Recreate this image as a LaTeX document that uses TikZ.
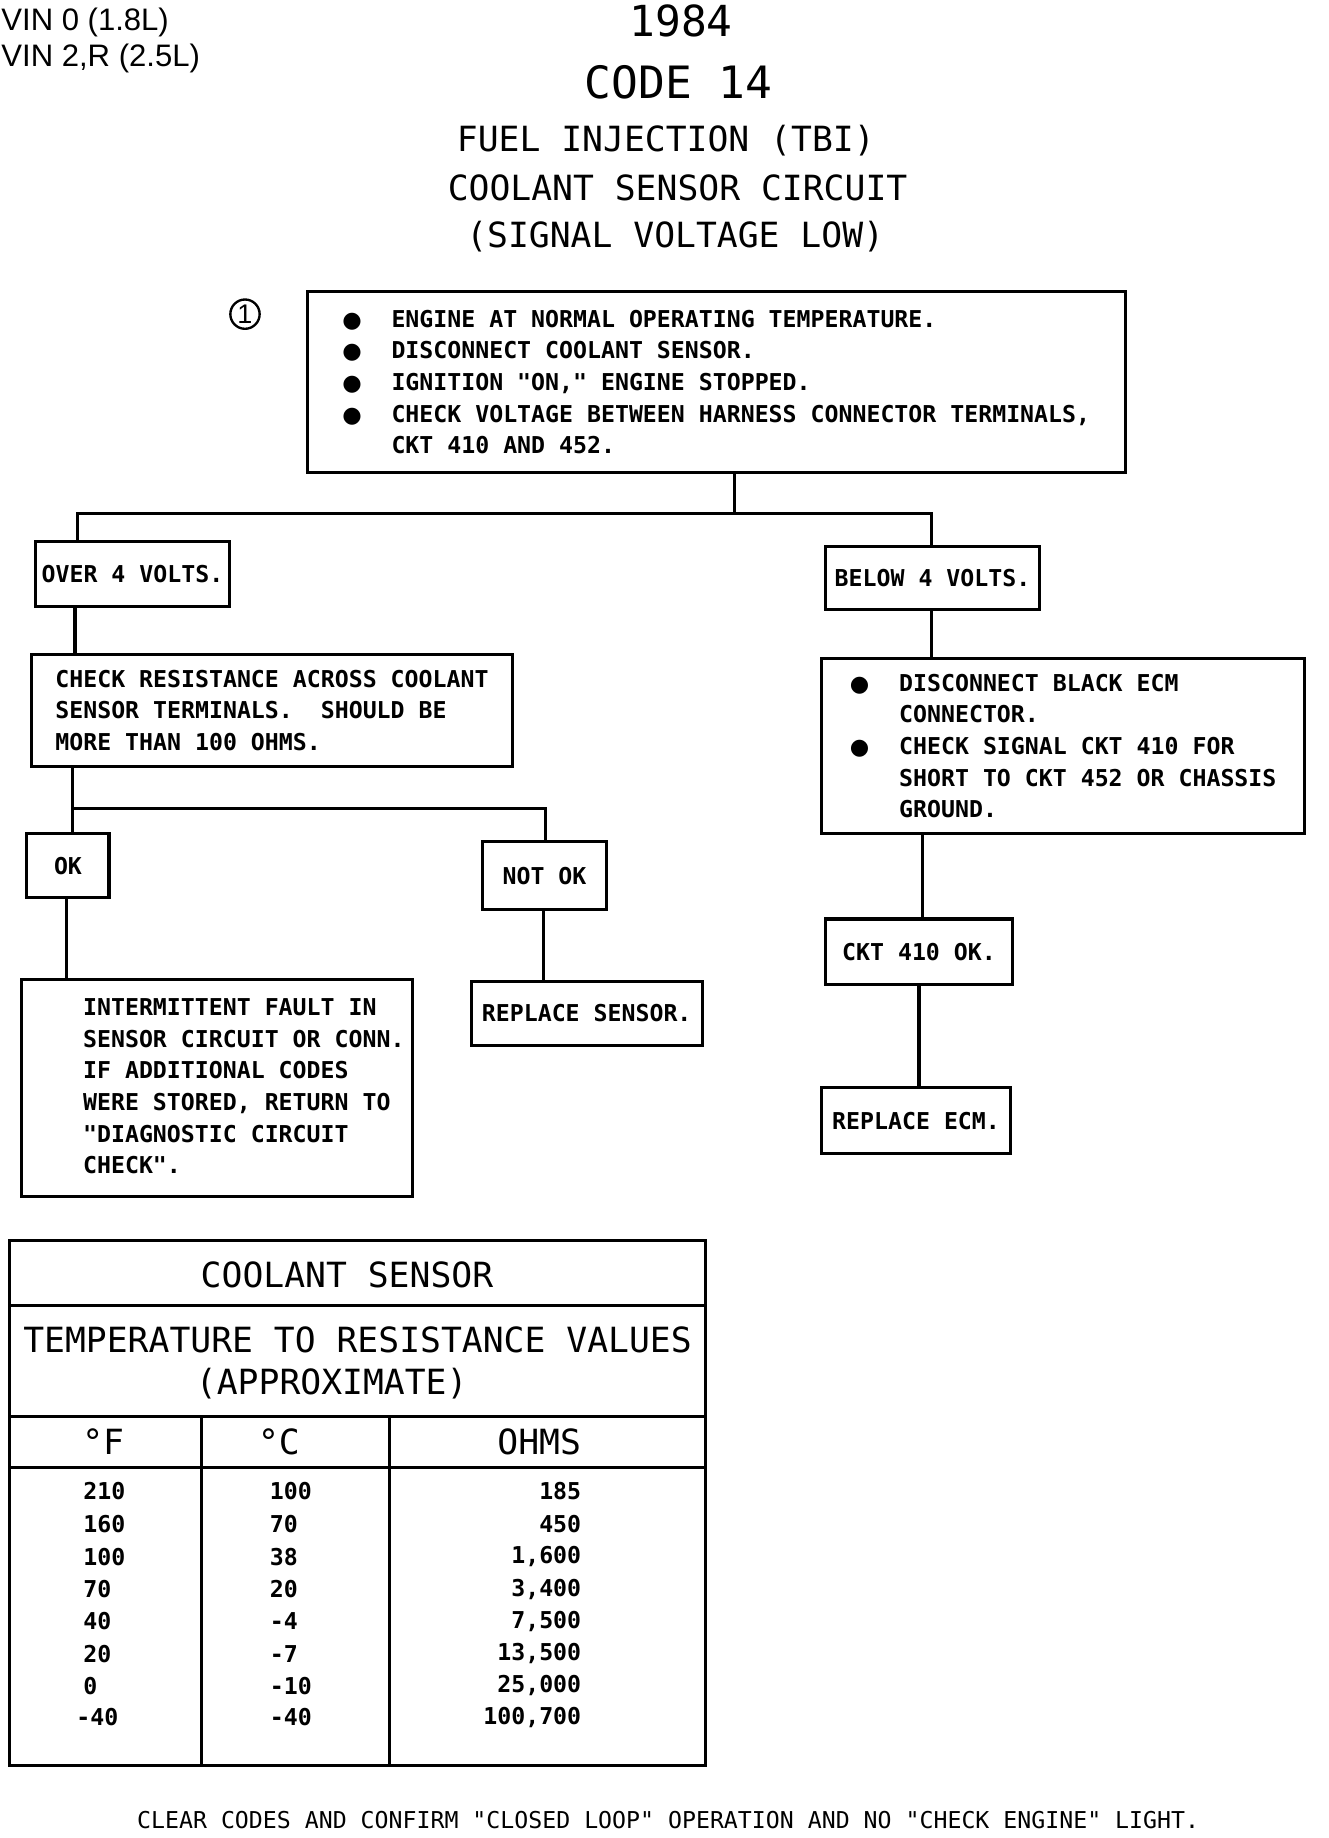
\documentclass[tikz,border=0pt]{standalone}
\usepackage{fontspec}
\usepackage{tikz}

\newfontfamily\plotfont{DejaVu Sans Mono}
\newfontfamily\symfont{DejaVu Sans}
\newfontfamily\vinfont{Liberation Sans}
\newcommand{\smalltxt}{\plotfont\fontsize{19.8}{27}\selectfont}
\newcommand{\midtxt}{\plotfont\fontsize{29.6}{36}\selectfont}
\newcommand{\bigtxt}{\plotfont\fontsize{38}{44}\selectfont}
\newcommand{\blt}{\makebox[42pt][l]{{\symfont\fontsize{19}{19}\selectfont ●}}}
\newcommand{\nblt}{\hspace*{42pt}}

\begin{document}
\begin{tikzpicture}[x=1pt, y=-1pt]
    % Define styles
    \tikzstyle{box} = [rectangle, draw=black, line width=2.6pt, font=\smalltxt\bfseries, align=left, inner sep=0pt]
    \tikzstyle{link} = [line width=2.6pt]
    \tikzstyle{title} = [font=\midtxt, inner sep=0pt]
    \tikzstyle{num} = [font=\smalltxt\bfseries, inner sep=0pt]

    \useasboundingbox[fill=white] (0,0) rectangle (1133,1568);

    % Heading
    \node[anchor=north west, align=left, inner sep=0pt, font=\vinfont\fontsize{26.5}{30}\selectfont] (vin) at (1,7) {VIN 0 (1.8L)\\VIN 2,R (2.5L)};
    \node[font=\plotfont\fontsize{36.5}{40}\selectfont] (year) at (581,18) {1984};
    \node[font=\bigtxt] (code) at (579,70) {CODE 14};
    \node[title] (tbi) at (568,120) {FUEL INJECTION (TBI)};
    \node[title] (circuit) at (578,160) {COOLANT SENSOR CIRCUIT};
    \node[title] (signal) at (576,202) {(SIGNAL VOLTAGE LOW)};

    \node[circle, draw, line width=2pt, minimum size=25pt, inner sep=0pt, font=\vinfont\fontsize{23}{23}\selectfont] (step1) at (209,268) {1};

    % Boxes
    \node[box, minimum width=698pt, minimum height=154pt] (start) at (611,326)
        {\blt ENGINE AT NORMAL OPERATING TEMPERATURE.\\
         \blt DISCONNECT COOLANT SENSOR.\\
         \blt IGNITION "ON," ENGINE STOPPED.\\
         \blt CHECK VOLTAGE BETWEEN HARNESS CONNECTOR TERMINALS,\\
         \nblt CKT 410 AND 452.\hspace*{8pt}};

    \node[box, minimum width=166pt, minimum height=55pt] (over) at (113,489.5) {OVER 4 VOLTS.};
    \node[box, minimum width=183pt, minimum height=54pt] (below) at (795.5,493) {BELOW 4 VOLTS.};

    \node[box, minimum width=410pt, minimum height=96pt] (resist) at (232,606)
        {CHECK RESISTANCE ACROSS COOLANT\\
         SENSOR TERMINALS.\ \ SHOULD BE\\
         MORE THAN 100 OHMS.};

    \node[box, minimum width=70pt, minimum height=55pt] (ok) at (58,738.5) {OK};
    \node[box, minimum width=105pt, minimum height=58pt] (notok) at (464.5,747) {NOT OK};

    \node[box, minimum width=334pt, minimum height=185pt] (intermit) at (185,928.5)
        {\begin{tabular}{@{\hspace{46pt}}l@{}}
         INTERMITTENT FAULT IN\\
         SENSOR CIRCUIT OR CONN.\\
         IF ADDITIONAL CODES\\
         WERE STORED, RETURN TO\\
         "DIAGNOSTIC CIRCUIT\\
         CHECK".
         \end{tabular}};

    \node[box, minimum width=197pt, minimum height=55pt] (replsensor) at (500.5,864.5) {REPLACE SENSOR.};

    \node[box, minimum width=412pt, minimum height=149pt] (disconnect) at (907,636.5)
        {\blt DISCONNECT BLACK ECM\\
         \nblt CONNECTOR.\\
         \blt CHECK SIGNAL CKT 410 FOR\\
         \nblt SHORT TO CKT 452 OR CHASSIS\\
         \nblt GROUND.};

    \node[box, minimum width=160pt, minimum height=56pt] (ckt) at (784,812) {CKT 410 OK.};
    \node[box, minimum width=161pt, minimum height=56pt] (replecm) at (781.5,956) {REPLACE ECM.};

    % Connectors
    \coordinate (fork1) at (627,438);
    \coordinate (forkL) at (66,438);
    \coordinate (forkR) at (795,438);
    \coordinate (fork2) at (62,690);
    \coordinate (fork2R) at (465,690);

    \draw[link] (start.south -| fork1) -- (fork1);
    \draw[link] (over.north -| forkL) -- (forkL) -- (forkR) -- (below.north -| forkR);
    \draw[link] (over.south -| 64,0) -- (resist.north -| 64,0);
    \draw[link] (resist.south -| fork2) -- (fork2) -- (fork2R) -- (notok.north -| fork2R);
    \draw[link] (fork2) -- (ok.north -| fork2);
    \draw[link] (ok.south -| 57,0) -- (intermit.north -| 57,0);
    \draw[link] (notok.south -| 464,0) -- (replsensor.north -| 464,0);
    \draw[link] (below.south -| 795,0) -- (disconnect.north -| 795,0);
    \draw[link] (disconnect.south -| 787,0) -- (ckt.north -| 787,0);
    \draw[link] (ckt.south -| 784,0) -- (replecm.north -| 784,0);

    % Table frame
    \draw[link] (8,1058) rectangle (602,1506);
    \draw[link] (8,1114) -- (602,1114);
    \draw[link] (8,1208) -- (602,1208);
    \draw[link] (8,1252) -- (602,1252);
    \draw[link] (172,1208) -- (172,1506);
    \draw[link] (332,1208) -- (332,1506);

    % Table headers
    \node[title] (tabtitle) at (296,1088) {COOLANT SENSOR};
    \node[title] (tabsub) at (305,1143) {TEMPERATURE TO RESISTANCE VALUES};
    \node[title] (tabapprox) at (283,1180) {(APPROXIMATE)};
    \node[title] (hdf) at (88,1230) {°F};
    \node[title] (hdc) at (238,1230) {°C};
    \node[title] (hdohm) at (460,1230) {OHMS};

    % Row 1
    \node[num, anchor=west] (f1) at (71,1272) {210};
    \node[num, anchor=west] (c1) at (230,1272) {100};
    \node[num, anchor=east] (r1) at (496,1272) {185};

    % Row 2
    \node[num, anchor=west] (f2) at (71,1300) {160};
    \node[num, anchor=west] (c2) at (230,1300) {70};
    \node[num, anchor=east] (r2) at (496,1300) {450};

    % Row 3
    \node[num, anchor=west] (f3) at (71,1328) {100};
    \node[num, anchor=west] (c3) at (230,1328) {38};
    \node[num, anchor=east] (r3) at (496,1328) {1,600};

    % Row 4
    \node[num, anchor=west] (f4) at (71,1356) {70};
    \node[num, anchor=west] (c4) at (230,1356) {20};
    \node[num, anchor=east] (r4) at (496,1356) {3,400};

    % Row 5
    \node[num, anchor=west] (f5) at (71,1383) {40};
    \node[num, anchor=west] (c5) at (230,1383) {-4};
    \node[num, anchor=east] (r5) at (496,1383) {7,500};

    % Row 6
    \node[num, anchor=west] (f6) at (71,1411) {20};
    \node[num, anchor=west] (c6) at (230,1411) {-7};
    \node[num, anchor=east] (r6) at (496,1411) {13,500};

    % Row 7
    \node[num, anchor=west] (f7) at (71,1438) {0};
    \node[num, anchor=west] (c7) at (230,1438) {-10};
    \node[num, anchor=east] (r7) at (496,1438) {25,000};

    % Row 8
    \node[num, anchor=west] (f8) at (65,1465) {-40};
    \node[num, anchor=west] (c8) at (230,1465) {-40};
    \node[num, anchor=east] (r8) at (496,1465) {100,700};

    % Footer
    \node[font=\smalltxt, inner sep=0pt] (footer) at (570,1553) {CLEAR CODES AND CONFIRM "CLOSED LOOP" OPERATION AND NO "CHECK ENGINE" LIGHT.};

\end{tikzpicture}
\end{document}
